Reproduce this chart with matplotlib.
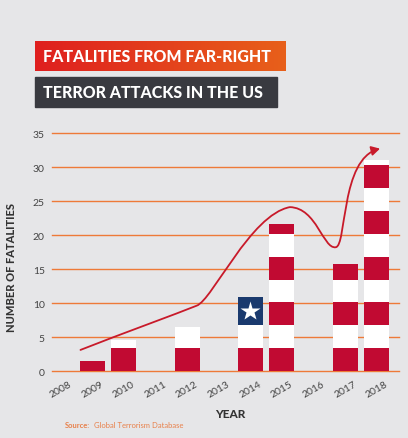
import numpy as np
import matplotlib
matplotlib.use('Agg')
from matplotlib import pyplot as plt
from matplotlib.path import Path
from matplotlib.patches import FancyArrowPatch, Rectangle
from matplotlib.colors import LinearSegmentedColormap

plt.rcParams['font.family'] = ['Lato', 'DejaVu Sans']

### Data
years = [2008, 2009, 2010, 2011, 2012, 2013, 2014, 2015, 2016, 2017, 2018]
fatalities = [0, 1.5, 4.5, 0, 6.4, 0, 10.9, 21.6, 0, 15.7, 31.0]
year_labels = [str(y) for y in years]
y_ticks = [0, 5, 10, 15, 20, 25, 30, 35]
flag_year = 2014

# hand drawn trend arrow (bezier nodes, data coords)
trend_nodes = [
    (2008.63, 3.1),
    (2010.0, 5.6), (2011.6, 8.3), (2012.3, 9.6),
    (2012.8, 10.4), (2014.0, 23.0), (2015.25, 24.1),
    (2016.1, 24.0), (2016.3, 17.9), (2016.7, 18.2),
    (2017.05, 18.4), (2016.85, 31.2), (2018.1, 32.7),
]

title_1 = 'FATALITIES FROM FAR-RIGHT'
title_2 = 'TERROR ATTACKS IN THE US'

### Style
BG = '#E6E6E8'
GRID = '#EE7A38'
RED = '#C10A32'
WHITE = '#FFFFFF'
BLUE = '#1A3A6E'
LINE = '#C81A2A'
STRIPE = 3.36
W, H = 408, 439

fig = plt.figure(figsize=(W / 100, H / 100), dpi=100, facecolor=BG)
ax = fig.add_axes([51.7 / W, 1 - 372 / H, (399.3 - 51.7) / W, (372 - 134) / H])
ax.set_facecolor(BG)
ax.set_xlim(2007.72, 2018.71)
ax.set_ylim(0, 35)

for t in y_ticks:
    ax.axhline(t, color=GRID, lw=1.0, zorder=1, clip_on=False)

# striped bars
for yr, v in zip(years, fatalities):
    k = 0
    while k * STRIPE < v - 1e-9:
        bottom = k * STRIPE
        h = min(STRIPE, v - bottom)
        color = RED if k % 2 == 0 else WHITE
        if yr == flag_year and k >= 2:
            h = v - bottom
            color = BLUE
        ax.bar(yr, h, bottom=bottom, width=0.79, color=color, lw=0, zorder=2)
        if yr == flag_year and k >= 2:
            ax.plot(yr, bottom + h / 2, marker='*', color='white', ms=15, mec='none', zorder=3)
            break
        k += 1

# trend arrow
codes = [Path.MOVETO] + [Path.CURVE4] * (len(trend_nodes) - 1)
arrow = FancyArrowPatch(path=Path(trend_nodes, codes), arrowstyle='-|>,head_length=5,head_width=2.8',
                        color=LINE, lw=1.3, zorder=4, clip_on=False)
ax.add_patch(arrow)

for s in ax.spines.values():
    s.set_visible(False)
ax.set_yticks(y_ticks)
ax.set_yticklabels([str(t) for t in y_ticks], color='#444444', fontsize=7.5)
ax.set_xticks(years)
ax.set_xticklabels(year_labels, rotation=30, color='#444444', fontsize=7.5, ha='center')
ax.tick_params(axis='both', length=0)
ax.tick_params(axis='y', pad=5)
ax.tick_params(axis='x', pad=6)

fig.text(12 / W, 1 - 268 / H, 'NUMBER OF FATALITIES', rotation=90, ha='center', va='center',
         fontsize=8, fontweight='black', color='#333333')
fig.text(230 / W, 1 - 415 / H, 'YEAR', ha='center', va='center',
         fontsize=8.5, fontweight='black', color='#333333')
fig.text(65 / W, 1 - 426 / H, 'Source:', ha='left', va='center', fontsize=5.5,
         fontweight='bold', color='#E8804A')
fig.text(94 / W, 1 - 426 / H, 'Global Terrorism Database', ha='left', va='center', fontsize=5.5,
         color='#E8804A')

# title boxes
gax = fig.add_axes([35 / W, 1 - 71.7 / H, (286 - 35) / W, 30 / H])
grad = np.linspace(0, 1, 256).reshape(1, -1)
cmap = LinearSegmentedColormap.from_list('t', ['#DF1F1F', '#E8601A'])
gax.imshow(grad, aspect='auto', cmap=cmap, extent=[0, 1, 0, 1])
gax.axis('off')
gax.text(0.033, 0.5, title_1, color='white', fontsize=11.5, fontweight='black', va='center', ha='left',
         transform=gax.transAxes)

fig.patches.append(Rectangle((35 / W, 1 - 107.7 / H), (276.7 - 35) / W, 29.4 / H,
                             transform=fig.transFigure, color='#393A40', zorder=0))
fig.text(43 / W, 1 - 93 / H, title_2, color='white', fontsize=11.5, fontweight='black',
         va='center', ha='left')

fig.savefig('out.png', dpi=100, facecolor=BG)
